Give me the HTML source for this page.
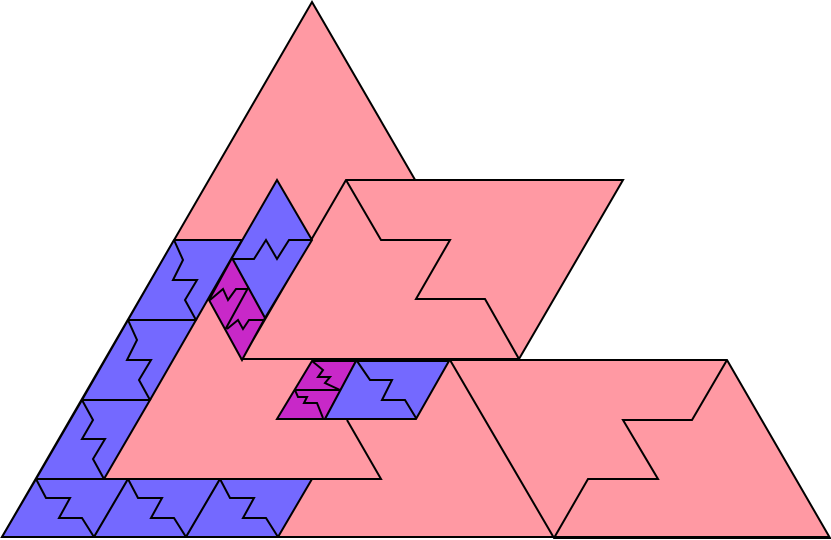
<!DOCTYPE html>
<html><head><meta charset="utf-8"><style>html,body{margin:0;padding:0;background:#fff}svg{display:block}</style></head>
<body>
<svg width="831" height="540" viewBox="0 0 831 540" xmlns="http://www.w3.org/2000/svg">
<g stroke="#000" stroke-width="2" stroke-linejoin="miter" fill="none">
<polygon points="312,2 2,537 622,537" fill="#FF99A3"/>
<polygon points="346,180 623,180 519,359 242,359" fill="#FF99A3"/>
<polyline points="346,180 381,240 450,240 416,299 485,299 519,359"/>
<polygon points="450,360 727,360 830,538 554,538" fill="#FF99A3"/>
<polyline points="727,360 692,420 623,420 658,479 588,479 554,538"/>
<polyline points="104,479 381,479 347,420"/>
<line x1="2" y1="537" x2="830" y2="537"/>

<!-- left stack -->
<polygon points="174,240 242,240 196,320 128,320" fill="#7469FF"/>
<polyline points="174,240 183,260 173,280 197,280 185,300 196,320"/>
<polygon points="128,320 196,320 150,400 82,400" fill="#7469FF"/>
<polyline points="128,320 137,340 127,360 151,360 139,380 150,400"/>
<polygon points="82,400 150,400 104,479 36,479" fill="#7469FF"/>
<polyline points="82,400 93,420 82,439 105,439 93,459 104,479"/>

<!-- bottom row -->
<polygon points="36,479 128,479 94,537 2,537" fill="#7469FF"/>
<polyline points="36,479 46,498 70,498 59,518 82,518 94,537"/>
<polygon points="128,479 220,479 186,537 94,537" fill="#7469FF"/>
<polyline points="128,479 138,498 162,498 151,518 174,518 186,537"/>
<polygon points="220,479 312,479 278,537 186,537" fill="#7469FF"/>
<polyline points="220,479 230,498 254,498 243,518 266,518 278,537"/>

<!-- upper blue + magenta -->
<polygon points="277,180 312,240 265,318 232,258" fill="#7469FF"/>
<polyline points="232,259 254,259 266,240 277,259 289,240 312,240"/>
<polygon points="232,258 265,318 242,360 209,300" fill="#C828C8"/>
<line x1="225" y1="330" x2="248" y2="288"/>
<polyline points="210,300 223,289 228,300 236,289 248,289"/>
<polyline points="227,329 238,320 243,329 249,320 265,320"/>

<!-- middle row -->
<polygon points="312,361 356,361 325,419 277,419" fill="#C828C8"/>
<line x1="294" y1="390" x2="340" y2="390"/>
<polyline points="312,361 323,370 318,377 330,377 325,383 340,390"/>
<polyline points="295,390 298,397 307,397 304,403 317,403 323,418"/>
<polygon points="356,361 449,361 416,419 325,419" fill="#7469FF"/>
<polyline points="357,361 370,380 392,380 382,400 405,400 416,418"/>
</g>
</svg>
</body></html>
